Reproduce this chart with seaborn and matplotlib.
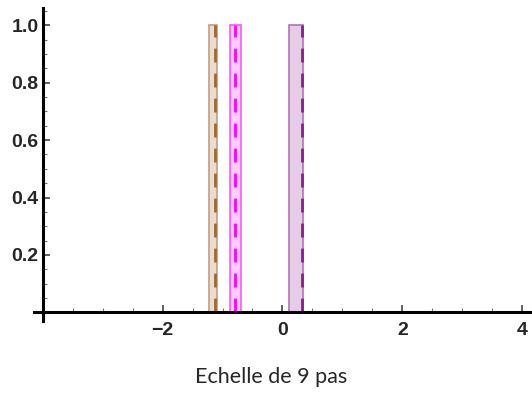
import matplotlib
matplotlib.use("Agg")
import matplotlib.pyplot as plt
import seaborn as sns
import pandas as pd
from matplotlib.ticker import MultipleLocator

# bar edges and heights
series = ["brun", "rose", "violet"]
bin_lo = [-1.22, -0.88, 0.11]
bin_hi = [-1.10, -0.69, 0.34]
heights = [1.0, 1.0, 1.0]
mean_pos = [-1.13, -0.79, 0.32]

fills = ["#ecdccd", "#ffccff", "#e6cce6"]
edges = ["#c0a080", "#ff55ff", "#b470b8"]
lines = ["#a0682e", "#ff00ff", "#8e1c90"]

sns.set_style("white")
plt.rcParams["font.family"] = ["Liberation Sans", "DejaVu Sans"]

fig = plt.figure(figsize=(5.32, 3.97), dpi=100)
ax = fig.add_axes([0.08, 0.213, 0.92, 0.767])

for i, name in enumerate(series):
    df = pd.DataFrame({"x": [(bin_lo[i] + bin_hi[i]) / 2], "w": [heights[i]]})
    sns.histplot(data=df, x="x", weights="w", bins=[bin_lo[i], bin_hi[i]],
                 color=fills[i], edgecolor=edges[i], linewidth=1.2, alpha=1, ax=ax)
    ax.vlines(mean_pos[i], 0, heights[i], colors=lines[i], linestyles=(0, (5, 4)), linewidth=2)

ax.set_xlim(-4, 4.16)
ax.set_ylim(0, 1.06)
ax.set_xlabel("")
ax.set_ylabel("")

ax.set_xticks([-2, 0, 2, 4])
ax.set_xticklabels(["\u22122", "0", "2", "4"])
ax.set_yticks([0.2, 0.4, 0.6, 0.8, 1.0])
ax.set_yticklabels(["0.2", "0.4", "0.6", "0.8", "1.0"])
ax.xaxis.set_minor_locator(MultipleLocator(0.5))
ax.yaxis.set_minor_locator(MultipleLocator(0.05))
ax.tick_params(axis="both", which="both", bottom=True, left=True)
ax.tick_params(axis="both", which="major", direction="in", length=5, width=1.2,
               color="#444444", labelsize=14)
ax.tick_params(axis="both", which="minor", direction="in", length=3, width=0.8,
               color="#777777")
ax.tick_params(axis="x", pad=7)
ax.tick_params(axis="y", pad=3)
for lab in ax.get_xticklabels() + ax.get_yticklabels():
    lab.set_fontweight("semibold")

for s in ["top", "right"]:
    ax.spines[s].set_visible(False)
for s in ["left", "bottom"]:
    ax.spines[s].set_linewidth(2.2)
    ax.spines[s].set_color("black")
ax.spines["bottom"].set_bounds(-4.15, 4.16)
ax.spines["left"].set_bounds(-0.03, 1.06)

fig.text(0.51, 0.05, "Echelle de 9 pas", ha="center", va="center",
         fontsize=15.5, family=["Lato", "DejaVu Sans"])

fig.savefig("out.png", dpi=100)
